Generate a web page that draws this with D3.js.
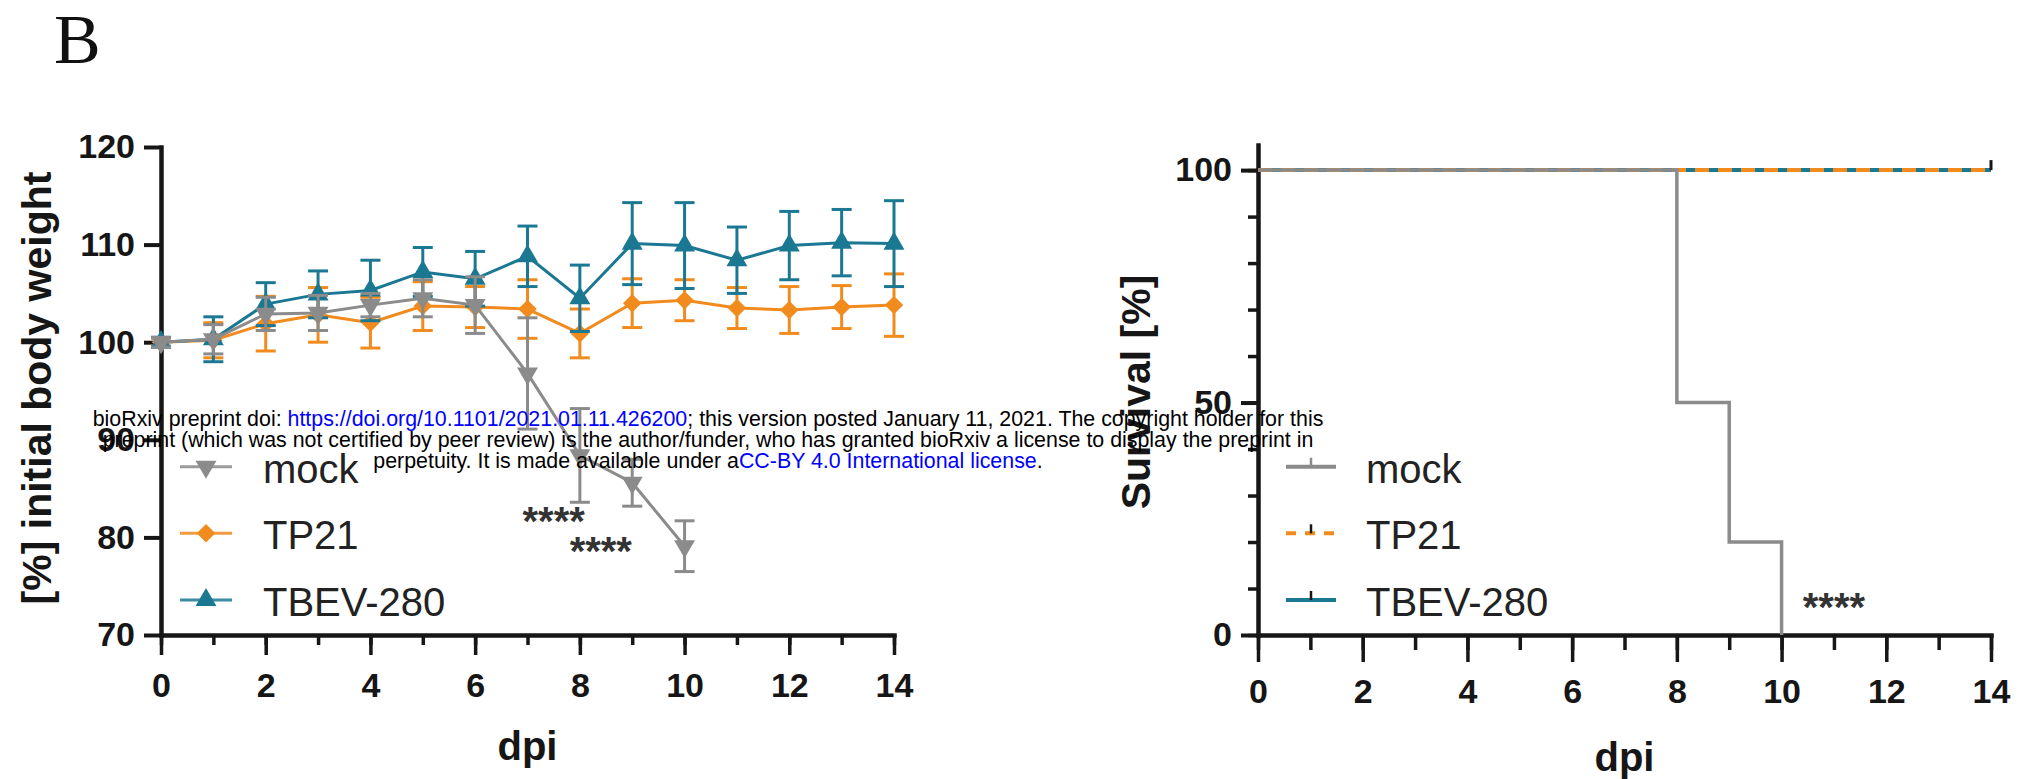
<!DOCTYPE html>
<html>
<head>
<meta charset="utf-8">
<script src="https://cdn.jsdelivr.net/npm/d3@7"></script>
<style>
  html, body { margin: 0; padding: 0; background: #fff; }
  svg { display: block; }
</style>
</head>
<body>
<svg id="chart" width="2039" height="779"></svg>
<script>
// ---------------- DATA ----------------
const days = [0, 1, 2, 3, 4, 5, 6, 7, 8, 9, 10, 11, 12, 13, 14];
const seriesNames = ["mock", "TP21", "TBEV-280"];

// Body weight (% of initial), mean and error
const mockWeight = [100, 100.3, 102.9, 103.0, 103.8, 104.5, 103.8, 96.8, 88.4, 85.6, 79.1];
const mockWeightErr = [0.5, 1.5, 1.7, 1.8, 1.2, 1.9, 2.9, 5.7, 4.8, 2.4, 2.6];
const tp21Weight = [100, 100.2, 101.9, 102.8, 102.0, 103.7, 103.6, 103.4, 100.9, 104.0, 104.3, 103.5, 103.3, 103.6, 103.8];
const tp21WeightErr = [0.4, 1.8, 2.8, 2.8, 2.6, 2.5, 2.1, 3.0, 2.5, 2.5, 2.1, 2.1, 2.4, 2.2, 3.2];
const tbevWeight = [100, 100.3, 103.9, 104.9, 105.3, 107.2, 106.5, 108.8, 104.5, 110.1, 109.9, 108.4, 109.9, 110.2, 110.1];
const tbevWeightErr = [0.5, 2.3, 2.2, 2.4, 3.1, 2.5, 2.8, 3.1, 3.4, 4.2, 4.4, 3.4, 3.5, 3.4, 4.4];

// Survival (Kaplan-Meier steps)
const mockSurvDays = [0, 8, 9, 10];
const mockSurvPct = [100, 50, 20, 0];
const tp21SurvDays = [0, 14];
const tp21SurvPct = [100, 100];
const tbevSurvDays = [0, 14];
const tbevSurvPct = [100, 100];

// Axis ticks
const weightTicks = [70, 80, 90, 100, 110, 120];
const survMajorTicks = [0, 50, 100];
const survMinorTicks = [0, 10, 20, 30, 40, 50, 60, 70, 80, 90, 100];
const dayMajorTicks = [0, 2, 4, 6, 8, 10, 12, 14];
const dayMinorTicks = days;

// Significance annotations
const weightStars = [{ day: 7.5, value: 80.2, text: "****" }, { day: 8.4, value: 77.2, text: "****" }];
const survStars = [{ day: 11.0, value: 3.0, text: "****" }];

const panelLetter = "B";
const watermarkLines = [
  [{ t: "bioRxiv preprint doi: ", c: "#000" }, { t: "https://doi.org/10.1101/2021.01.11.426200", c: "#0000ff" }, { t: "; this version posted January 11, 2021. The copyright holder for this", c: "#000" }],
  [{ t: "preprint (which was not certified by peer review) is the author/funder, who has granted bioRxiv a license to display the preprint in", c: "#000" }],
  [{ t: "perpetuity. It is made available under a", c: "#000" }, { t: "CC-BY 4.0 International license", c: "#0000ff" }, { t: ".", c: "#000" }]
];

// ---------------- STYLE ----------------
const colors = { mock: "#8b8b8b", TP21: "#f28b1e", "TBEV-280": "#1b7893" };
const FONT = "'Liberation Sans', Arial, Helvetica, sans-serif";
const INK = "#161616";

const svg = d3.select("#chart");
svg.append("rect").attr("width", 2039).attr("height", 779).attr("fill", "#fff");

// ---------------- LEFT PANEL: body weight ----------------
const x1 = d3.scaleLinear().domain([0, 14]).range([161, 894]);
const y1 = d3.scaleLinear().domain([70, 120]).range([635, 147]);

function styleAxis(g, domainW, tickW) {
  g.select(".domain").attr("stroke", INK).attr("stroke-width", domainW).attr("stroke-linecap", "square");
  g.selectAll(".tick line").attr("stroke", INK).attr("stroke-width", tickW);
  g.selectAll("text").attr("fill", INK).attr("font-family", FONT).attr("font-weight", "bold").attr("font-size", 34);
}

const left = svg.append("g");

// y axis
const gy1 = left.append("g").attr("transform", `translate(${x1(0)},0)`)
  .call(d3.axisLeft(y1).tickValues(weightTicks).tickSize(17).tickSizeOuter(0).tickPadding(9).tickFormat(d3.format("d")));
styleAxis(gy1, 4.5, 4);

// x axis minor + major
const gx1m = left.append("g").attr("transform", `translate(0,${y1(70)})`)
  .call(d3.axisBottom(x1).tickValues(dayMinorTicks).tickSize(10).tickSizeOuter(0).tickFormat(""));
styleAxis(gx1m, 4.5, 3.5);
const gx1 = left.append("g").attr("transform", `translate(0,${y1(70)})`)
  .call(d3.axisBottom(x1).tickValues(dayMajorTicks).tickSize(20).tickSizeOuter(0).tickPadding(18).tickFormat(d3.format("d")));
styleAxis(gx1, 4.5, 3.5);
gx1.select(".domain").remove();

// titles
left.append("text").attr("transform", `translate(51,388) rotate(-90)`)
  .attr("text-anchor", "middle").attr("font-family", FONT).attr("font-weight", "bold")
  .attr("font-size", 41).attr("fill", INK).text("[%] initial body weight");
left.append("text").attr("x", (x1(0) + x1(14)) / 2).attr("y", 760)
  .attr("text-anchor", "middle").attr("font-family", FONT).attr("font-weight", "bold")
  .attr("font-size", 40).attr("fill", INK).text("dpi");

const weightSeries = [
  { name: "TP21", mean: tp21Weight, err: tp21WeightErr, sym: "diamond" },
  { name: "TBEV-280", mean: tbevWeight, err: tbevWeightErr, sym: "up" },
  { name: "mock", mean: mockWeight, err: mockWeightErr, sym: "down" }
];

function markerPath(sym) {
  if (sym === "diamond") return d3.symbol(d3.symbolSquare, 170)();
  return d3.symbol(d3.symbolTriangle, 190)();
}
function markerRot(sym) {
  if (sym === "diamond") return 45;
  if (sym === "down") return 180;
  return 0;
}

const lineGen = d3.line().x(d => x1(d.day)).y(d => y1(d.v));

weightSeries.forEach(s => {
  const pts = s.mean.map((v, i) => ({ day: days[i], v: v, e: s.err[i] }));
  const g = left.append("g");
  const c = colors[s.name];
  // error bars
  const eb = g.selectAll(".eb").data(pts).enter().append("g");
  eb.append("line").attr("x1", d => x1(d.day)).attr("x2", d => x1(d.day))
    .attr("y1", d => y1(d.v - d.e)).attr("y2", d => y1(d.v + d.e))
    .attr("stroke", c).attr("stroke-width", 3);
  eb.append("line").attr("x1", d => x1(d.day) - 10).attr("x2", d => x1(d.day) + 10)
    .attr("y1", d => y1(d.v + d.e)).attr("y2", d => y1(d.v + d.e))
    .attr("stroke", c).attr("stroke-width", 3);
  eb.append("line").attr("x1", d => x1(d.day) - 10).attr("x2", d => x1(d.day) + 10)
    .attr("y1", d => y1(d.v - d.e)).attr("y2", d => y1(d.v - d.e))
    .attr("stroke", c).attr("stroke-width", 3);
  // line
  g.append("path").datum(pts).attr("d", lineGen).attr("fill", "none")
    .attr("stroke", c).attr("stroke-width", 3);
  // markers
  g.selectAll(".mk").data(pts).enter().append("path")
    .attr("d", markerPath(s.sym))
    .attr("transform", d => `translate(${x1(d.day)},${y1(d.v)}) rotate(${markerRot(s.sym)})`)
    .attr("fill", c);
});

// stars
weightStars.forEach(st => {
  left.append("text").attr("x", x1(st.day)).attr("y", y1(st.value))
    .attr("text-anchor", "middle").attr("font-family", FONT).attr("font-weight", "bold")
    .attr("font-size", 40).attr("fill", "#333").text(st.text);
});

// legend (left)
const legendY = [466.7, 533.3, 600];
["mock", "TP21", "TBEV-280"].forEach((n, i) => {
  const sym = n === "mock" ? "down" : (n === "TP21" ? "diamond" : "up");
  const g = left.append("g").attr("transform", `translate(0,${legendY[i]})`);
  g.append("line").attr("x1", 180).attr("x2", 232).attr("y1", 0).attr("y2", 0)
    .attr("stroke", colors[n]).attr("stroke-width", 3).attr("opacity", 0.85);
  g.append("path").attr("d", markerPath(sym)).attr("transform", `translate(206,0) rotate(${markerRot(sym)})`)
    .attr("fill", colors[n]);
  g.append("text").attr("x", 263).attr("y", 16).attr("font-family", FONT)
    .attr("font-size", 40).attr("fill", "#222").text(n);
});

// ---------------- RIGHT PANEL: survival ----------------
const x2 = d3.scaleLinear().domain([0, 14]).range([1258, 1991]);
const y2 = d3.scaleLinear().domain([0, 105.4]).range([635, 145]);
const right = svg.append("g");

const gy2m = right.append("g").attr("transform", `translate(${x2(0)},0)`)
  .call(d3.axisLeft(y2).tickValues(survMinorTicks).tickSize(10).tickSizeOuter(0).tickFormat(""));
styleAxis(gy2m, 4.5, 3.5);
const gy2 = right.append("g").attr("transform", `translate(${x2(0)},0)`)
  .call(d3.axisLeft(y2).tickValues(survMajorTicks).tickSize(17).tickSizeOuter(0).tickPadding(9).tickFormat(d3.format("d")));
styleAxis(gy2, 4.5, 4);
gy2.select(".domain").remove();

const gx2m = right.append("g").attr("transform", `translate(0,${y2(0)})`)
  .call(d3.axisBottom(x2).tickValues(dayMinorTicks).tickSize(15).tickSizeOuter(0).tickFormat(""));
styleAxis(gx2m, 4.5, 3.5);
const gx2 = right.append("g").attr("transform", `translate(0,${y2(0)})`)
  .call(d3.axisBottom(x2).tickValues(dayMajorTicks).tickSize(27).tickSizeOuter(0).tickPadding(17).tickFormat(d3.format("d")));
styleAxis(gx2, 4.5, 3.5);
gx2.select(".domain").remove();

right.append("text").attr("transform", `translate(1150,392) rotate(-90)`)
  .attr("text-anchor", "middle").attr("font-family", FONT).attr("font-weight", "bold")
  .attr("font-size", 41).attr("fill", INK).text("Survival [%]");
right.append("text").attr("x", (x2(0) + x2(14)) / 2).attr("y", 771)
  .attr("text-anchor", "middle").attr("font-family", FONT).attr("font-weight", "bold")
  .attr("font-size", 40).attr("fill", INK).text("dpi");

const stepGen = d3.line().x(d => x2(d.t)).y(d => y2(d.p)).curve(d3.curveStepAfter);
const toPts = (ts, ps) => ts.map((t, i) => ({ t: t, p: ps[i] }));

right.append("path").datum(toPts(tbevSurvDays, tbevSurvPct)).attr("d", stepGen)
  .attr("fill", "none").attr("stroke", colors["TBEV-280"]).attr("stroke-width", 4);
right.append("path").datum(toPts(tp21SurvDays, tp21SurvPct)).attr("d", stepGen)
  .attr("fill", "none").attr("stroke", colors.TP21).attr("stroke-width", 4)
  .attr("stroke-dasharray", "14,9");
right.append("path").datum(toPts(mockSurvDays, mockSurvPct)).attr("d", stepGen)
  .attr("fill", "none").attr("stroke", colors.mock).attr("stroke-width", 3.5);
// censor tick at end
right.append("line").attr("x1", x2(14)).attr("x2", x2(14))
  .attr("y1", y2(tp21SurvPct[1])).attr("y2", y2(tp21SurvPct[1]) - 10)
  .attr("stroke", INK).attr("stroke-width", 3);

survStars.forEach(st => {
  right.append("text").attr("x", x2(st.day)).attr("y", y2(st.value))
    .attr("text-anchor", "middle").attr("font-family", FONT).attr("font-weight", "bold")
    .attr("font-size", 40).attr("fill", "#333").text(st.text);
});

// legend (right)
["mock", "TP21", "TBEV-280"].forEach((n, i) => {
  const g = right.append("g").attr("transform", `translate(0,${legendY[i]})`);
  if (n === "TP21") {
    g.append("line").attr("x1", 1286).attr("x2", 1336).attr("y1", 0).attr("y2", 0)
      .attr("stroke", colors[n]).attr("stroke-width", 4).attr("stroke-dasharray", "10,9");
  } else {
    g.append("line").attr("x1", 1286).attr("x2", 1336).attr("y1", 0).attr("y2", 0)
      .attr("stroke", colors[n]).attr("stroke-width", 4);
  }
  g.append("line").attr("x1", 1311).attr("x2", 1311).attr("y1", 0).attr("y2", -9)
    .attr("stroke", n === "mock" ? colors.mock : INK).attr("stroke-width", 2.5);
  g.append("text").attr("x", 1366).attr("y", 16).attr("font-family", FONT)
    .attr("font-size", 40).attr("fill", "#222").text(n);
});

// ---------------- PANEL LETTER ----------------
svg.append("text").attr("x", 54).attr("y", 63)
  .attr("font-family", "'Liberation Serif', 'Times New Roman', serif")
  .attr("font-size", 70).attr("fill", "#111").text(panelLetter);

// ---------------- WATERMARK ----------------
const wm = svg.append("g");
const wmY = [426, 447, 468];
const wmTexts = [];
watermarkLines.forEach((parts, i) => {
  const t = wm.append("text").attr("x", 708).attr("y", wmY[i]).attr("text-anchor", "middle")
    .attr("font-family", FONT).attr("font-size", 18);
  parts.forEach(p => t.append("tspan").attr("fill", p.c).text(p.t));
  wmTexts.push(t);
});
// fit font so first line spans the measured width
const w0 = wmTexts[0].node().getComputedTextLength();
const fs = 18 * 1232 / w0;
wmTexts.forEach(t => t.attr("font-size", fs));
</script>
</body>
</html>
